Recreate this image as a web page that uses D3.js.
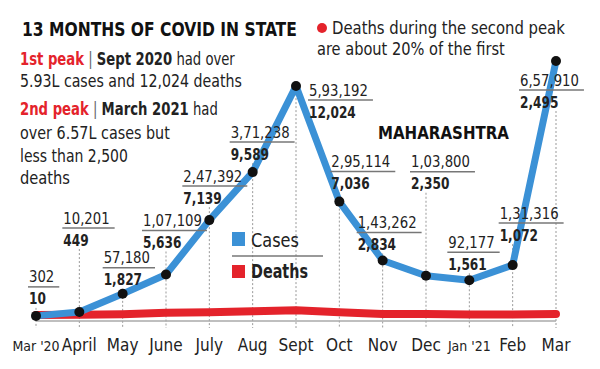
<!DOCTYPE html>
<html>
<head>
<meta charset="utf-8">
<script src="https://cdn.jsdelivr.net/npm/d3@7"></script>
<style>
  body { margin: 0; background: #fff; }
  text { font-family: "DejaVu Sans Condensed", "Liberation Sans Narrow", sans-serif; fill: #222; }
</style>
</head>
<body>
<script>
// 13 months of covid in Maharashtra
var width = 600,
    height = 369;

var months = ["Mar '20", "April", "May", "June", "July", "Aug", "Sept", "Oct", "Nov", "Dec", "Jan '21", "Feb", "Mar"];
var cases = [302, 10201, 57180, 107109, 247392, 371238, 593192, 295114, 143262, 103800, 92177, 131316, 657910];
var deaths = [10, 449, 1827, 5636, 7139, 9589, 12024, 7036, 2834, 2350, 1561, 1072, 2495];
var casesText = ["302", "10,201", "57,180", "1,07,109", "2,47,392", "3,71,238", "5,93,192", "2,95,114", "1,43,262", "1,03,800", "92,177", "1,31,316", "6,57,910"];
var deathsText = ["10", "449", "1,827", "5,636", "7,139", "9,589", "12,024", "7,036", "2,834", "2,350", "1,561", "1,072", "2,495"];

// where each label box sits relative to its point (left edge, rule line)
var labelOffset = [[-8, -29], [-17, -84], [-20, -26], [-24, -44], [-27, -34], [-23, -30], [12, 14],
                   [-9, -30], [-26, -28], [-16, -104], [-22, -28], [-14, -42], [-37, 29]];

var blue = "#3b91d6", red = "#e4232b";

var svg = d3.select("body").append("svg")
    .attr("width", width)
    .attr("height", height);

// the original uses a narrow face, so squeeze dejavu sideways
function squeeze(t, x, y, target, k) {
    var w = t.node().getComputedTextLength();
    if (target) k = target / w;
    t.attr("x", 0).attr("y", 0)
        .attr("transform", "translate(" + x + "," + y + ") scale(" + k + ",1)");
    return w * k;
}

var x = d3.scalePoint()
    .domain(months)
    .range([36, 556]);

var y = d3.scaleLinear()
    .domain([0, d3.max(cases)])
    .range([316, 61]);

var data = months.map(function(m, i) {
    return {month: m, cases: cases[i], deaths: deaths[i], ct: casesText[i], dt: deathsText[i], off: labelOffset[i]};
});

var grid = svg.append("g");
var marks = svg.append("g");
var labels = svg.append("g");

// value labels
var lab = labels.selectAll("g")
    .data(data)
    .enter().append("g")
    .attr("transform", function(d) {
        return "translate(" + (x(d.month) + d.off[0]) + "," + (y(d.cases) + d.off[1]) + ")";
    });

lab.each(function(d) {
    var g = d3.select(this);
    var t1 = g.append("text").style("font-size", "16px").text(d.ct);
    var w1 = squeeze(t1, 1, -4.5, null, 0.92);
    var t2 = g.append("text").style("font-size", "15px").style("font-weight", "bold").text(d.dt);
    var w2 = squeeze(t2, 1, 17.5, null, 0.9);
    d.w = Math.max(w1, w2) + 6;
    g.insert("line", ":first-child")
        .attr("x1", 0).attr("x2", d.w)
        .attr("stroke", "#777").attr("stroke-width", 1.5);
});

// dashed drop lines
grid.selectAll("line")
    .data(data)
    .enter().append("line")
    .attr("x1", function(d) { return x(d.month); })
    .attr("x2", function(d) { return x(d.month); })
    .attr("y1", function(d) {
        var left = x(d.month) + d.off[0];
        var rule = y(d.cases) + d.off[1];
        if (left <= x(d.month) && left + d.w >= x(d.month)) return rule + 21;
        return y(d.cases);
    })
    .attr("y2", 328)
    .attr("stroke", "#999")
    .attr("stroke-width", 1)
    .attr("stroke-dasharray", "2,2");

// baseline
grid.append("line")
    .attr("x1", x(months[0])).attr("x2", x(months[12]))
    .attr("y1", y(0) + 5).attr("y2", y(0) + 5)
    .attr("stroke", "#aaa").attr("stroke-width", 1.5);

var line = d3.line()
    .x(function(d) { return x(d.month); });

marks.append("path")
    .datum(data)
    .attr("d", line.y(function(d) { return y(d.deaths) - 1; }))
    .attr("fill", "none")
    .attr("stroke", red)
    .attr("stroke-width", 8)
    .attr("stroke-linejoin", "round")
    .attr("stroke-linecap", "round");

marks.append("path")
    .datum(data)
    .attr("d", line.y(function(d) { return y(d.cases); }))
    .attr("fill", "none")
    .attr("stroke", blue)
    .attr("stroke-width", 7)
    .attr("stroke-linejoin", "round");

marks.selectAll("circle")
    .data(data)
    .enter().append("circle")
    .attr("cx", function(d) { return x(d.month); })
    .attr("cy", function(d) { return y(d.cases); })
    .attr("r", 5)
    .attr("fill", "#111");

// x axis labels
svg.append("g").selectAll("text")
    .data(months)
    .enter().append("text")
    .attr("x", function(d) { return x(d); })
    .attr("y", 351)
    .attr("text-anchor", "middle")
    .style("font-size", function(d) { return d.indexOf("'") > 0 ? "14px" : "17px"; })
    .text(function(d) { return d; });

// title and notes
squeeze(svg.append("text")
    .style("font-size", "20px")
    .style("font-weight", "bold")
    .style("fill", "#111")
    .text("13 MONTHS OF COVID IN STATE"), 22, 36, 275);

var notes = [
    [{t: "1st peak", c: red, b: true}, {t: " | ", c: "#666"}, {t: "Sept 2020", b: true}, {t: " had over"}],
    [{t: "5.93L cases and 12,024 deaths"}],
    [{t: "2nd peak", c: red, b: true}, {t: " | ", c: "#666"}, {t: "March 2021", b: true}, {t: " had"}],
    [{t: "over 6.57L cases but"}],
    [{t: "less than 2,500"}],
    [{t: "deaths"}]
];
var noteY = [65, 87, 115, 139, 162, 184];
var noteW = [215, 222, 198, 150, 108, 50];

notes.forEach(function(parts, i) {
    var t = svg.append("text")
        .style("font-size", "17px");
    parts.forEach(function(p) {
        t.append("tspan")
            .style("fill", p.c || "#222")
            .style("font-weight", p.b ? "bold" : "normal")
            .text(p.t);
    });
    squeeze(t, 20, noteY[i], noteW[i]);
});

svg.append("circle")
    .attr("cx", 322).attr("cy", 28).attr("r", 5)
    .attr("fill", red);

squeeze(svg.append("text")
    .style("font-size", "18px")
    .text("Deaths during the second peak"), 332, 34, 233);

squeeze(svg.append("text")
    .style("font-size", "18px")
    .text("are about 20% of the first"), 317, 55, 188);

squeeze(svg.append("text")
    .style("font-size", "17px")
    .style("font-weight", "bold")
    .style("fill", "#111")
    .text("MAHARASHTRA"), 378, 139, 131);

// legend
var legend = svg.append("g").attr("transform", "translate(232,232)");
legend.append("rect").attr("width", 13).attr("height", 14).attr("fill", blue);
squeeze(legend.append("text").style("font-size", "19px").text("Cases"), 19, 15, 48);
legend.append("line").attr("x1", 0).attr("x2", 91).attr("y1", 24).attr("y2", 24)
    .attr("stroke", "#777").attr("stroke-width", 1.5);
legend.append("rect").attr("y", 33).attr("width", 13).attr("height", 13).attr("fill", red);
squeeze(legend.append("text").style("font-size", "19px")
    .style("font-weight", "bold").text("Deaths"), 19, 46, 57);
</script>
</body>
</html>
